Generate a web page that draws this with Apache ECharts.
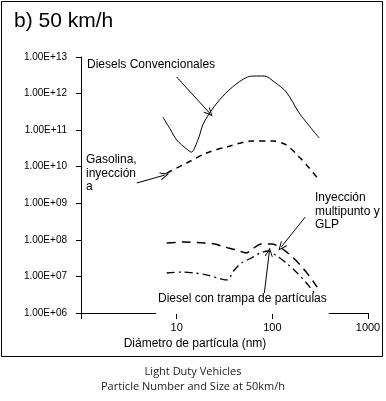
<!DOCTYPE html>
<html>
<head>
<meta charset="utf-8">
<script src="https://cdn.jsdelivr.net/npm/echarts@6/dist/echarts.min.js"></script>
<style>
html,body{margin:0;padding:0;background:#fff;}
#chart{width:386px;height:401px;}
</style>
</head>
<body>
<div id="chart"></div>
<script>
// ---- data ----
const dieselX = [7.15, 8.66, 10, 12.7, 14.3, 15.4, 17.4, 18.7, 22.1, 28.0, 38.3, 54.9, 68.1, 82.5, 105, 140, 191, 309];
const dieselY = [2.29e11, 1.01e11, 5.4e10, 3.05e10, 2.5e10, 3.25e10, 7.4e10, 1.38e11, 2.94e11, 6.67e11, 1.51e12, 2.84e12, 3.02e12, 3.02e12, 2.07e12, 1.10e12, 2.94e11, 6.1e10];

const gasX = [7.87, 12.7, 20.5, 33.2, 61.9, 100, 140, 191, 243, 309];
const gasY = [6.7e9, 1.26e10, 2.37e10, 3.46e10, 5.05e10, 5.05e10, 3.93e10, 1.84e10, 9.2e9, 4.3e9];

const glpX = [7.87, 12.1, 19.6, 24.9, 31.6, 42.2, 53.6, 61.9, 76.8, 97.6, 124, 158, 200, 243, 294];
const glpY = [8.2e7, 8.7e7, 8.2e7, 7.7e7, 6.4e7, 5.3e7, 4.4e7, 5.6e7, 7.7e7, 7.7e7, 6.0e7, 3.6e7, 1.93e7, 1.03e7, 5.1e6];

const trapX = [7.87, 11.3, 15.4, 21.0, 29.4, 34.0, 39.3, 47.5, 60.4, 75.0, 90.9, 107.5, 140, 182, 232, 280];
const trapY = [1.24e7, 1.32e7, 1.24e7, 1.09e7, 8.5e6, 8.0e6, 1.41e7, 2.33e7, 3.19e7, 4.4e7, 4.96e7, 3.86e7, 2.33e7, 1.24e7, 6.2e6, 3.3e6];

const xTicks = [1, 10, 100, 1000];
const yTicks = [1e6, 1e7, 1e8, 1e9, 1e10, 1e11, 1e12, 1e13];

// annotation arrows [fromX, fromY, toX, toY]
const arrows = [
  [10, 2.84e12, 22.07, 2.94e11],
  [3.83, 3.59e9, 7.5, 5.9e9],
  [220.7, 4.2e8, 124, 6.4e7],
  [82.5, 3.5e6, 92.9, 4.66e7]
];

const titleText = 'b) 50 km/h';
const xName = 'Diámetro de partícula (nm)';
const caption1 = 'Light Duty Vehicles';
const caption2 = 'Particle Number and Size at 50km/h';

// ---- chart ----
const zip = (xs, ys) => xs.map((x, i) => [x, ys[i]]);
const chevron = 'path://M0,10 L5,0 L10,10 L8.8,10 L5,2.6 L1.2,10 Z';
const FONT = '"Liberation Sans", Arial, sans-serif';

const chart = echarts.init(document.getElementById('chart'), null, {renderer: 'canvas'});
chart.setOption({
  animation: false,
  backgroundColor: '#fff',
  grid: {left: 81, right: 18, top: 57, bottom: 88, containLabel: false},
  xAxis: {
    type: 'log', logBase: 10, min: xTicks[0], max: xTicks[xTicks.length - 1],
    name: xName, nameLocation: 'middle', nameGap: 23,
    nameTextStyle: {fontFamily: FONT, fontSize: 12, color: '#000', padding: [0, 59, 0, 0]},
    axisLine: {show: true, lineStyle: {color: '#000', width: 1}},
    axisTick: {show: true, length: 6, lineStyle: {color: '#000'}},
    axisLabel: {fontFamily: FONT, fontSize: 11, color: '#000', margin: 9,
      formatter: v => (v === 1 ? '' : String(v))},
    splitLine: {show: false}, minorTick: {show: false}
  },
  yAxis: {
    type: 'log', logBase: 10, min: yTicks[0], max: yTicks[yTicks.length - 1],
    axisLine: {show: true, lineStyle: {color: '#000', width: 1}},
    axisTick: {show: true, length: 5, lineStyle: {color: '#000'}},
    axisLabel: {fontFamily: FONT, fontSize: 10, color: '#000', margin: 14,
      formatter: v => '1.00E+' + String(Math.round(Math.log10(v))).padStart(2, '0')},
    splitLine: {show: false}
  },
  series: [
    {type: 'line', data: zip(dieselX, dieselY), smooth: 0.3, symbol: 'none',
     lineStyle: {color: '#000', width: 1, type: 'solid'},
     markLine: {silent: true, symbol: ['none', chevron], symbolSize: [8, 9],
       label: {show: false}, lineStyle: {color: '#000', width: 1, type: 'solid'},
       data: arrows.map(a => [{coord: [a[0], a[1]]}, {coord: [a[2], a[3]]}])}},
    {type: 'line', data: zip(gasX, gasY), smooth: 0.3, symbol: 'none',
     lineStyle: {color: '#000', width: 1.5, type: [6, 5]}},
    {type: 'line', data: zip(glpX, glpY), smooth: 0.3, symbol: 'none',
     lineStyle: {color: '#000', width: 1.5, type: [9, 6]}},
    {type: 'line', data: zip(trapX, trapY), smooth: 0.3, symbol: 'none',
     lineStyle: {color: '#000', width: 1.3, type: [8, 4, 2, 4]}}
  ],
  graphic: [
    {type: 'text', left: 14, top: 11, z: 100,
     style: {text: titleText, font: '21px ' + FONT, fill: '#000'}},
    {type: 'text', left: 87, top: 59, z: 100,
     style: {text: 'Diesels Convencionales', font: '12px ' + FONT, fill: '#000'}},
    {type: 'text', left: 86, top: 153, z: 100,
     style: {text: 'Gasolina,\ninyección\na', font: '12px ' + FONT, fill: '#000', lineHeight: 13.5}},
    {type: 'text', left: 315, top: 191, z: 100,
     style: {text: 'Inyección\nmultipunto y\nGLP', font: '12px ' + FONT, fill: '#000', lineHeight: 13.5}},
    {type: 'rect', z: 101, shape: {x: 382.5, y: 0, width: 4, height: 357}, style: {fill: '#fff'}},
    {type: 'text', left: 156, top: 293, z: 100,
     style: {text: 'Diesel con trampa de partículas', font: '12px ' + FONT, fill: '#000',
       backgroundColor: '#fff', padding: [0, 2, 9, 2]}},
    {type: 'rect', z: 102, shape: {x: 1.5, y: 1.5, width: 381, height: 355},
     style: {fill: 'none', stroke: '#000', lineWidth: 1}},
    {type: 'text', z: 100, left: 'center', top: 366,
     style: {text: caption1, font: '11px "Open Sans", sans-serif', fill: '#222'}},
    {type: 'text', z: 100, left: 'center', top: 381,
     style: {text: caption2, font: '11px "Open Sans", sans-serif', fill: '#222'}}
  ]
});
</script>
</body>
</html>
